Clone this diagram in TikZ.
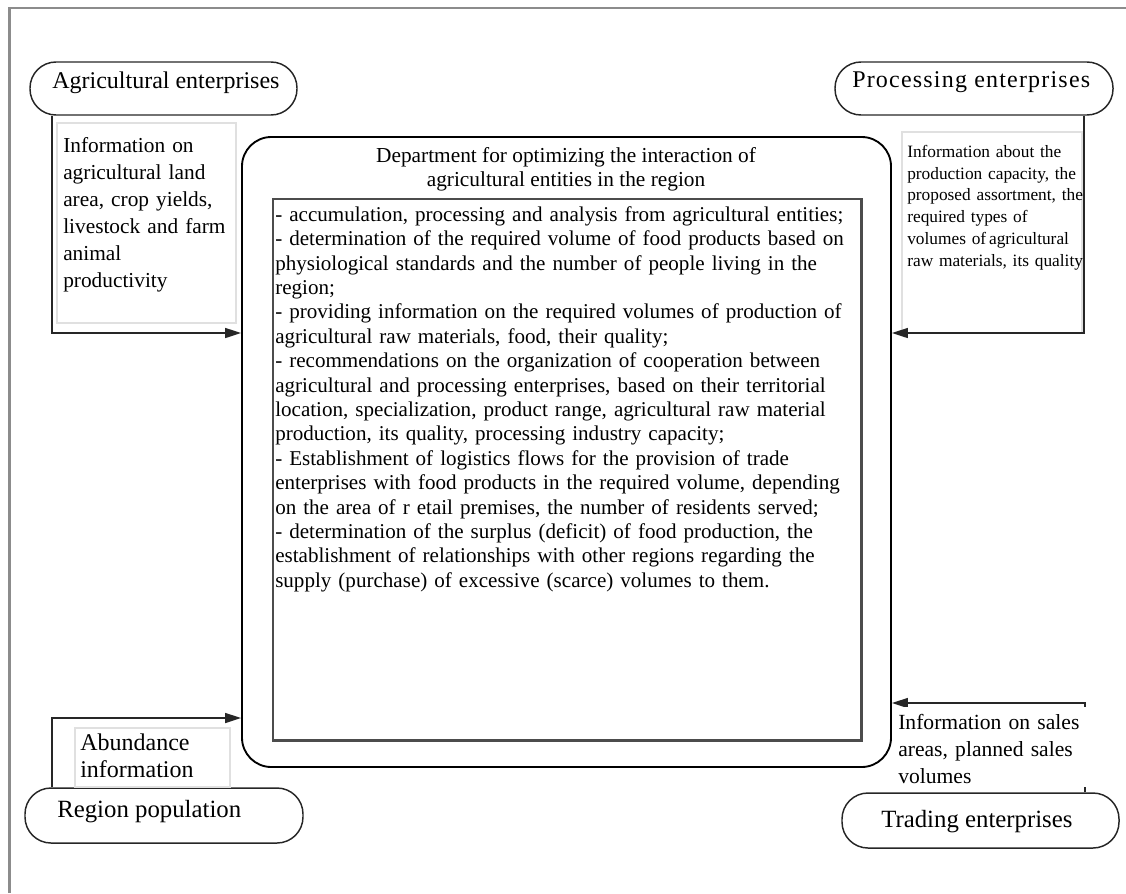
\documentclass[tikz,border=0pt]{standalone}
\usepackage{fontspec}
\setmainfont{Liberation Serif}
\usetikzlibrary{arrows.meta,fit}
\begin{document}
\begin{tikzpicture}[x=0.75pt,y=-0.75pt,
  pill/.style={draw=black!85, line width=1.1pt, rounded corners=19.5pt, inner sep=0pt},
  arr/.style={draw=black!85, line width=1.1pt, -{Triangle[length=12pt,width=7.5pt]}},
  infobox/.style={draw=black!12, line width=1.2pt, inner sep=0pt},
  lbl/.style={anchor=base west, inner sep=0pt, font=\fontsize{18}{21}\selectfont},
  txt/.style={anchor=north west, inner sep=0pt, align=left},
]
\useasboundingbox (0,0) rectangle (1126,893);
\draw[black!45, line width=1.6pt] (1126,8) -- (9.5,8) -- (9.5,893);

% central department box
\node[draw=black, line width=1.4pt, rounded corners=22pt, inner sep=0pt, fit={(242,137) (891,767)}] (dept) {};
\node[anchor=north, inner sep=0pt, align=center, font=\fontsize{16}{18.3}\selectfont] (title) at (566,145)
  {\strut Department for optimizing the interaction of\\ agricultural entities in the region};
\node[draw=black!70, line width=1pt, inner sep=0pt, fit={(273,199) (861,740)}] (inner) {};
\draw[black!70, line width=1.6pt] (inner.north east) -- (inner.south east) -- (inner.south west);
\node[txt, text width=440pt, font=\fontsize{15.8}{18.3}\selectfont] (body) at (275,204)
{\strut - accumulation, processing and analysis from agricultural entities;\\
- determination of the required volume of food products based on\\
physiological standards and the number of people living in the\\
region;\\
- providing information on the required volumes of production of\\
agricultural raw materials, food, their quality;\\
- recommendations on the organization of cooperation between\\
agricultural and processing enterprises, based on their territorial\\
location, specialization, product range, agricultural raw material\\
production, its quality, processing industry capacity;\\
- Establishment of logistics flows for the provision of trade\\
enterprises with food products in the required volume, depending\\
on the area of r etail premises, the number of residents served;\\
- determination of the surplus (deficit) of food production, the\\
establishment of relationships with other regions regarding the\\
supply (purchase) of excessive (scarce) volumes to them.};

% pills
\node[pill, fit={(30,62) (297,115)}] (agri) {};
\node[lbl] (agrit) at (52,88) {Agricultural enterprises};
\node[pill, fit={(835,62) (1113,115)}] (proc) {};
\node[lbl, font=\fontsize{18}{21}\selectfont\addfontfeatures{LetterSpace=5}] (proct) at (852,87) {Processing enterprises};
\node[pill, fit={(25,788) (303,843)}] (pop) {};
\node[lbl, font=\fontsize{18.6}{21}\selectfont] (popt) at (57,817) {Region population};
\node[pill, fit={(842,793) (1119,848)}] (trade) {};
\node[lbl, font=\fontsize{18.6}{21}\selectfont] (tradet) at (881,827) {Trading enterprises};

% info boxes
\node[infobox, fit={(57,123) (236,323)}] (agriinfo) {};
\node[txt, text width=140pt, font=\fontsize{16}{20.25}\selectfont] (agriinfot) at (63,133)
{\strut Information on\\ agricultural land\\ area, crop yields,\\ livestock and farm\\ animal\\ productivity};
\node[infobox, fit={(902,132) (1082,333)}] (procinfo) {};
\node[txt, text width=140pt, font=\fontsize{13}{16.3}\selectfont] (procinfot) at (907,142)
{\strut Information about the\\ production capacity, the\\ proposed assortment, the\\ required types of\\ volumes of\,agricultural\\ raw materials, its quality};
\node[infobox, fit={(75,728) (230,787)}] (popinfo) {};

% connectors
\coordinate (a1) at (52,333);
\draw[arr] (agri.south -| a1) |- (dept.west |- a1);
\coordinate (p1) at (1084,333);
\draw[arr] (proc.south -| p1) |- (dept.east |- p1);
\coordinate (r1) at (52,718);
\draw[arr] (pop.north -| r1) |- (dept.west |- r1);
\coordinate (t1) at (1085,703);
\draw[arr] (trade.north -| t1) |- (dept.east |- t1);

\node[txt, text width=110pt, font=\fontsize{18}{20.25}\selectfont] (popinfot) at (80,731)
{\strut Abundance\\ information};
\fill[white] (895,707) rectangle (1092,787);
\node[txt, text width=145pt, font=\fontsize{16.2}{20.25}\selectfont] (tradeinfot) at (898,710)
{\strut Information on sales\\ areas, planned sales\\ volumes};
\end{tikzpicture}
\end{document}
